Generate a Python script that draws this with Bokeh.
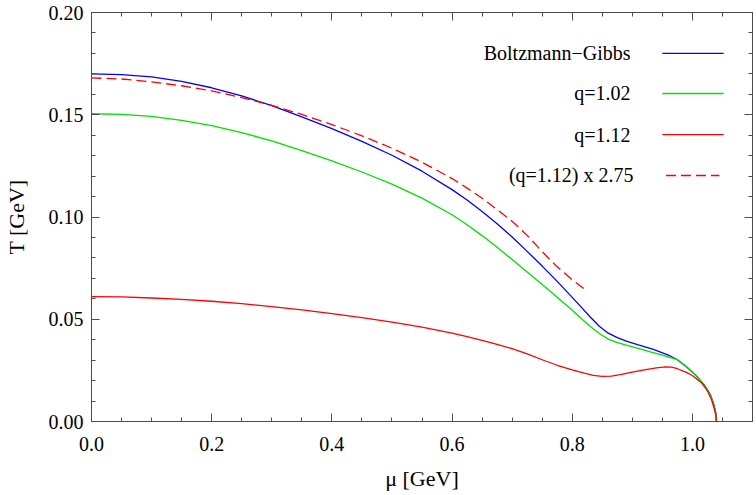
from bokeh.plotting import figure
from bokeh.models import (Range1d, LinearAxis, Label, Arrow, SingleIntervalTicker,
                          PrintfTickFormatter)
from bokeh.embed import file_html
from bokeh.resources import INLINE

# ---- data ----
mu_bg = [0.0, 0.05, 0.10, 0.15, 0.20, 0.25, 0.30, 0.35, 0.40, 0.45, 0.50, 0.55,
         0.60, 0.625, 0.65, 0.675, 0.70, 0.725, 0.75, 0.775, 0.80, 0.815, 0.83,
         0.845, 0.86, 0.875, 0.89, 0.91, 0.935, 0.96, 0.975, 0.99, 1.005, 1.02,
         1.03, 1.036, 1.039, 1.040]
T_bg = [0.1700, 0.1696, 0.1685, 0.1663, 0.1632, 0.1592, 0.1545, 0.1490, 0.1432,
        0.1370, 0.1302, 0.1224, 0.1134, 0.1083, 0.1027, 0.0967, 0.0902, 0.0832,
        0.0760, 0.0685, 0.0607, 0.0559, 0.0511, 0.0466, 0.0432, 0.0410, 0.0393,
        0.0375, 0.0353, 0.0325, 0.0302, 0.0268, 0.0228, 0.0178, 0.0130, 0.0080,
        0.0040, 0.0]

mu_q102 = [0.0, 0.05, 0.10, 0.15, 0.20, 0.25, 0.30, 0.35, 0.40, 0.45, 0.50, 0.55,
           0.60, 0.625, 0.65, 0.675, 0.70, 0.725, 0.75, 0.775, 0.79, 0.80, 0.815,
           0.83, 0.845, 0.86, 0.875, 0.89, 0.91, 0.93, 0.95, 0.965, 0.975, 0.99,
           1.005, 1.02, 1.03, 1.036, 1.039, 1.040]
T_q102 = [0.1505, 0.1502, 0.1492, 0.1473, 0.1447, 0.1413, 0.1372, 0.1325, 0.1274,
          0.1220, 0.1161, 0.1092, 0.1011, 0.0962, 0.0909, 0.0852, 0.0792, 0.0731,
          0.0670, 0.0608, 0.0570, 0.0544, 0.0504, 0.0465, 0.0430, 0.0403, 0.0386,
          0.0373, 0.0357, 0.0340, 0.0325, 0.0311, 0.0302, 0.0268, 0.0228, 0.0178,
          0.0130, 0.0080, 0.0040, 0.0]

mu_q112 = [0.0, 0.05, 0.10, 0.15, 0.20, 0.25, 0.30, 0.35, 0.40, 0.45, 0.50, 0.55,
           0.60, 0.625, 0.65, 0.675, 0.70, 0.725, 0.75, 0.775, 0.80, 0.82, 0.835,
           0.85, 0.865, 0.88, 0.90, 0.92, 0.94, 0.955, 0.965, 0.975, 0.99, 1.00,
           1.015, 1.025, 1.032, 1.036, 1.039, 1.040]
T_q112 = [0.0611, 0.0609, 0.0604, 0.0597, 0.0588, 0.0576, 0.0562, 0.0546, 0.0528,
          0.0508, 0.0486, 0.0461, 0.0432, 0.0415, 0.0397, 0.0377, 0.0356, 0.0331,
          0.0302, 0.0275, 0.0252, 0.0236, 0.0226, 0.0221, 0.0222, 0.0229, 0.0241,
          0.0252, 0.0262, 0.0267, 0.0266, 0.0258, 0.0240, 0.0225, 0.0190, 0.0150,
          0.0105, 0.0065, 0.0030, 0.0]

scale_factor = 2.75
mu_scaled = [m for m in mu_q112 if m <= 0.82]
T_scaled = [scale_factor * t for m, t in zip(mu_q112, T_q112) if m <= 0.82]

labels = ["Boltzmann\u2212Gibbs", "q=1.02", "q=1.12", "(q=1.12) x 2.75"]
colors = ["#0000ff", "#00e000", "#ff0000", "#ff0000"]
dashes = ["solid", "solid", "solid", "10 5"]

FONT = "Liberation Serif"
AX = "#4d4d4d"

p = figure(width=756, height=495, output_backend="svg", toolbar_location=None,
           x_range=Range1d(0, 1.1), y_range=Range1d(0, 0.2),
           min_border_left=90, min_border_right=4, min_border_top=12,
           min_border_bottom=74, background_fill_color="white",
           border_fill_color="white")
p.grid.visible = False
p.outline_line_color = AX


def style_axis(ax, ticker, labels_on=True):
    ax.ticker = ticker
    ax.axis_line_color = AX
    ax.major_tick_line_color = AX
    ax.minor_tick_line_color = AX
    ax.major_tick_in = 8
    ax.major_tick_out = 0
    ax.minor_tick_in = 4
    ax.minor_tick_out = 0
    ax.major_label_text_font = FONT
    ax.major_label_text_color = "black"
    ax.major_label_text_font_size = "20px"
    ax.axis_label_text_font = FONT
    ax.axis_label_text_font_size = "22px"
    ax.axis_label_text_font_style = "normal"
    ax.axis_label_text_color = "black"
    if not labels_on:
        ax.major_label_text_color = None
        ax.major_label_text_font_size = "1px"
        ax.major_label_standoff = 0


xt = lambda: SingleIntervalTicker(interval=0.2, num_minor_ticks=4)
yt = lambda: SingleIntervalTicker(interval=0.05, num_minor_ticks=5)

style_axis(p.xaxis[0], xt())
style_axis(p.yaxis[0], yt())
p.xaxis[0].axis_label = "\u03bc [GeV]"
p.yaxis[0].axis_label = "T [GeV]"
p.xaxis[0].major_label_standoff = 15
p.xaxis[0].axis_label_standoff = 12
p.yaxis[0].major_label_standoff = 8
p.yaxis[0].axis_label_standoff = 17
p.xaxis[0].formatter = PrintfTickFormatter(format="%.1f")
p.yaxis[0].formatter = PrintfTickFormatter(format="%.2f")

top_ax = LinearAxis()
style_axis(top_ax, xt(), labels_on=False)
p.add_layout(top_ax, "above")
right_ax = LinearAxis()
style_axis(right_ax, yt(), labels_on=False)
p.add_layout(right_ax, "right")

series = [(mu_bg, T_bg), (mu_q102, T_q102), (mu_q112, T_q112), (mu_scaled, T_scaled)]
for (xs, ys), c, d in zip(series, colors, dashes):
    p.line(xs, ys, line_color=c, line_width=1.3, line_dash=d)

# ---- legend (text right-aligned, sample line to the right) ----
leg_y = [0.1800, 0.1604, 0.1403, 0.1203]
leg_text_x = [0.897, 0.897, 0.897, 0.902]
for lab, ly, lx, c, d in zip(labels, leg_y, leg_text_x, colors, dashes):
    p.add_layout(Label(x=lx, y=ly, text=lab, text_align="right",
                       text_baseline="middle", text_font=FONT,
                       text_font_size="20px", text_color="black"))
    x0, x1 = (0.950, 1.052) if d == "solid" else (0.956, 1.045)
    p.add_layout(Arrow(end=None, start=None, x_start=x0, y_start=ly, x_end=x1,
                       y_end=ly, line_color=c, line_width=1.3, line_dash=d))

open("out.html", "w").write(file_html(p, INLINE))
